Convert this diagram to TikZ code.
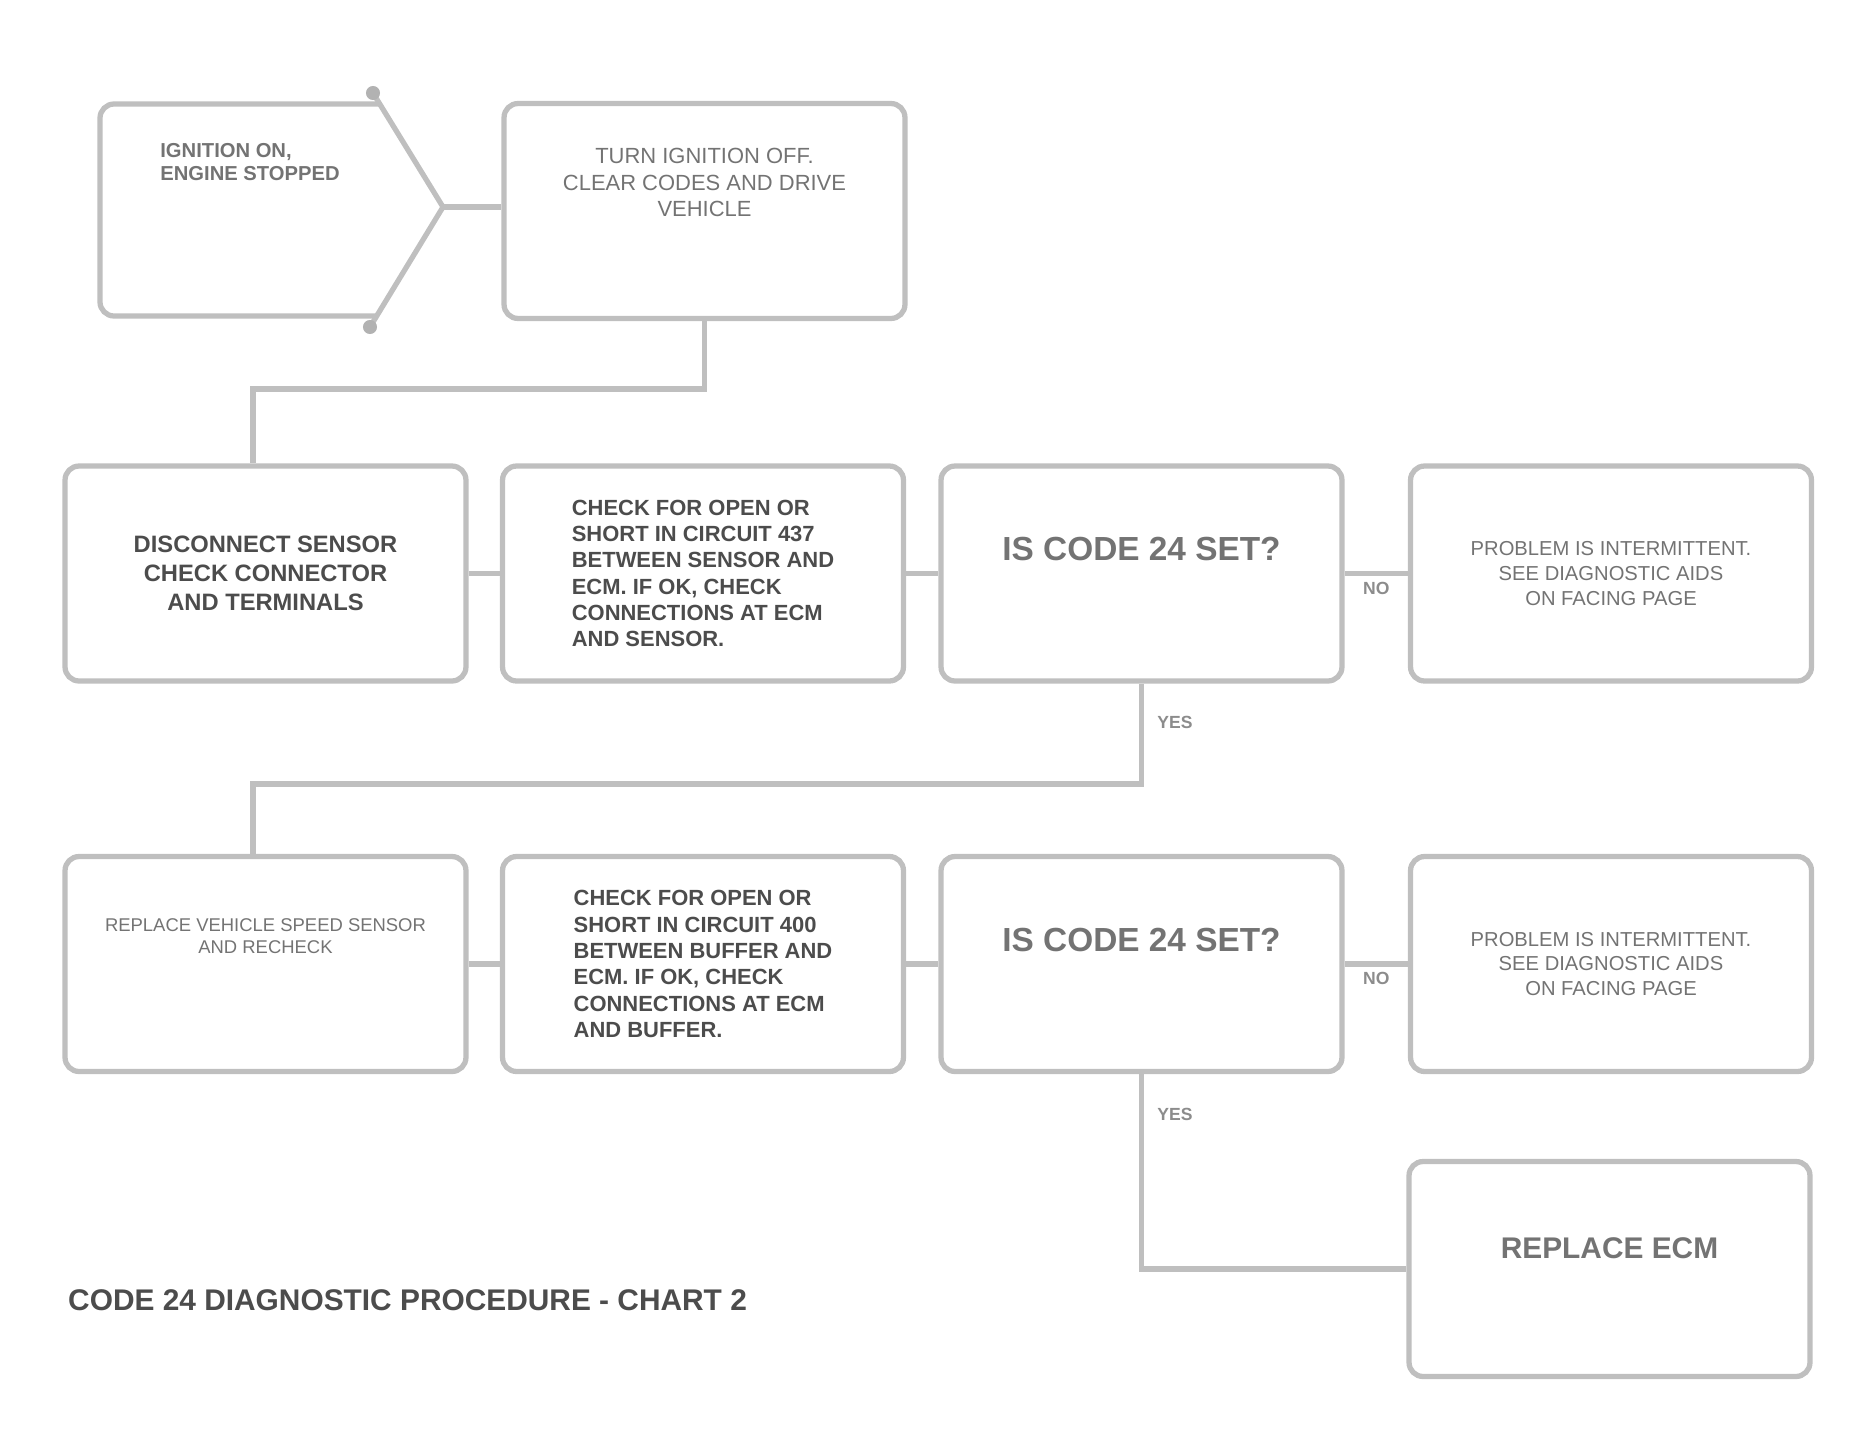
\documentclass[tikz,border=0pt]{standalone}
\usepackage{fontspec}
\setmainfont{Liberation Sans}
\usepackage{tikz}
\usetikzlibrary{calc}
\def\chartbox{\node[draw=black!25,line width=3pt,rounded corners=8pt,minimum width=8.02cm,minimum height=4.3cm,align=center,text=black!55]}
\tikzset{link/.style={draw=black!25,line width=3pt},
  tag/.style={text=black!45,font=\fontsize{10}{12}\selectfont\bfseries},
  heavy/.style={text=black!70,font=\fontsize{12.5}{15}\selectfont\bfseries}}

\begin{document}
\begin{tikzpicture}[x=0.02cm,y=-0.02cm,auto]
\useasboundingbox (0,0) rectangle (1849,1454);
% start shape
\draw[link,rounded corners=8pt] (380,104) -- (100,104) -- (100,316) -- (377,316);
\draw[link] (373,93) -- (443,207) -- (370,327);
\fill[black!30] (373,93) circle (4pt) (370,327) circle (4pt);
\coordinate (atip) at (443,207);
\node[text=black!55,align=left,font=\fontsize{11.5}{13.5}\selectfont\bfseries] (atext) at (250,162) {IGNITION ON,\\ ENGINE STOPPED};
\chartbox[font=\fontsize{12.5}{15}\selectfont] (b) at (704.5,211) {TURN IGNITION OFF.\\ CLEAR CODES AND DRIVE\\ VEHICLE\\[1.4em]};
% second row
\chartbox[heavy,font=\fontsize{13.5}{16.5}\selectfont\bfseries] (b1) at (265.5,573.5) {DISCONNECT SENSOR\\ CHECK CONNECTOR\\ AND TERMINALS};
\chartbox[heavy,align=left] (b2) at (703,573.5) {CHECK FOR OPEN OR\\ SHORT IN CIRCUIT 437\\ BETWEEN SENSOR AND\\ ECM. IF OK, CHECK\\ CONNECTIONS AT ECM\\ AND SENSOR.};
\chartbox[font=\fontsize{19}{22}\selectfont\bfseries] (b3) at (1141.5,573.5) {IS CODE 24 SET?\\[0.3em]};
\chartbox[font=\fontsize{11.5}{14}\selectfont] (b4) at (1611,573.5) {PROBLEM IS INTERMITTENT.\\ SEE DIAGNOSTIC AIDS\\ ON FACING PAGE};
% third row
\chartbox[font=\fontsize{10.5}{13}\selectfont] (c1) at (265.5,964) {REPLACE VEHICLE SPEED SENSOR\\ AND RECHECK\\[1.8em]};
\chartbox[heavy,align=left] (c2) at (703,964) {CHECK FOR OPEN OR\\ SHORT IN CIRCUIT 400\\ BETWEEN BUFFER AND\\ ECM. IF OK, CHECK\\ CONNECTIONS AT ECM\\ AND BUFFER.};
\chartbox[font=\fontsize{19}{22}\selectfont\bfseries] (c3) at (1141.5,964) {IS CODE 24 SET?\\[0.3em]};
\chartbox[font=\fontsize{11.5}{14}\selectfont] (c4) at (1611,964) {PROBLEM IS INTERMITTENT.\\ SEE DIAGNOSTIC AIDS\\ ON FACING PAGE};
\chartbox[font=\fontsize{17}{20}\selectfont\bfseries] (d) at (1609.5,1269) {REPLACE ECM\\[0.2em]};
% connectors
\coordinate (bendb) at (253,389);
\coordinate (bendc) at (253,784);
\draw[link] (atip) -- (atip -| b.west);
\draw[link] (b.south) |- (bendb) -- (bendb |- b1.north);
\draw[link] (b1) -- (b2);
\draw[link] (b2) -- (b3);
\draw[link] (b3) -- node[tag,swap] {NO} (b4);
\draw[link] (b3.south) |- (bendc) -- (bendc |- c1.north);
\draw[link] (c1) -- (c2);
\draw[link] (c2) -- (c3);
\draw[link] (c3) -- node[tag,swap] {NO} (c4);
\draw[link] (c3.south) |- (d.west);
\node[tag] (yes1) at (1175,722) {YES};
\node[tag] (yes2) at (1175,1114) {YES};
% caption
\node[anchor=west,text=black!70,font=\fontsize{17}{20}\selectfont\bfseries] (caption) at (62,1300) {CODE 24 DIAGNOSTIC PROCEDURE - CHART 2};
\end{tikzpicture}
\end{document}
